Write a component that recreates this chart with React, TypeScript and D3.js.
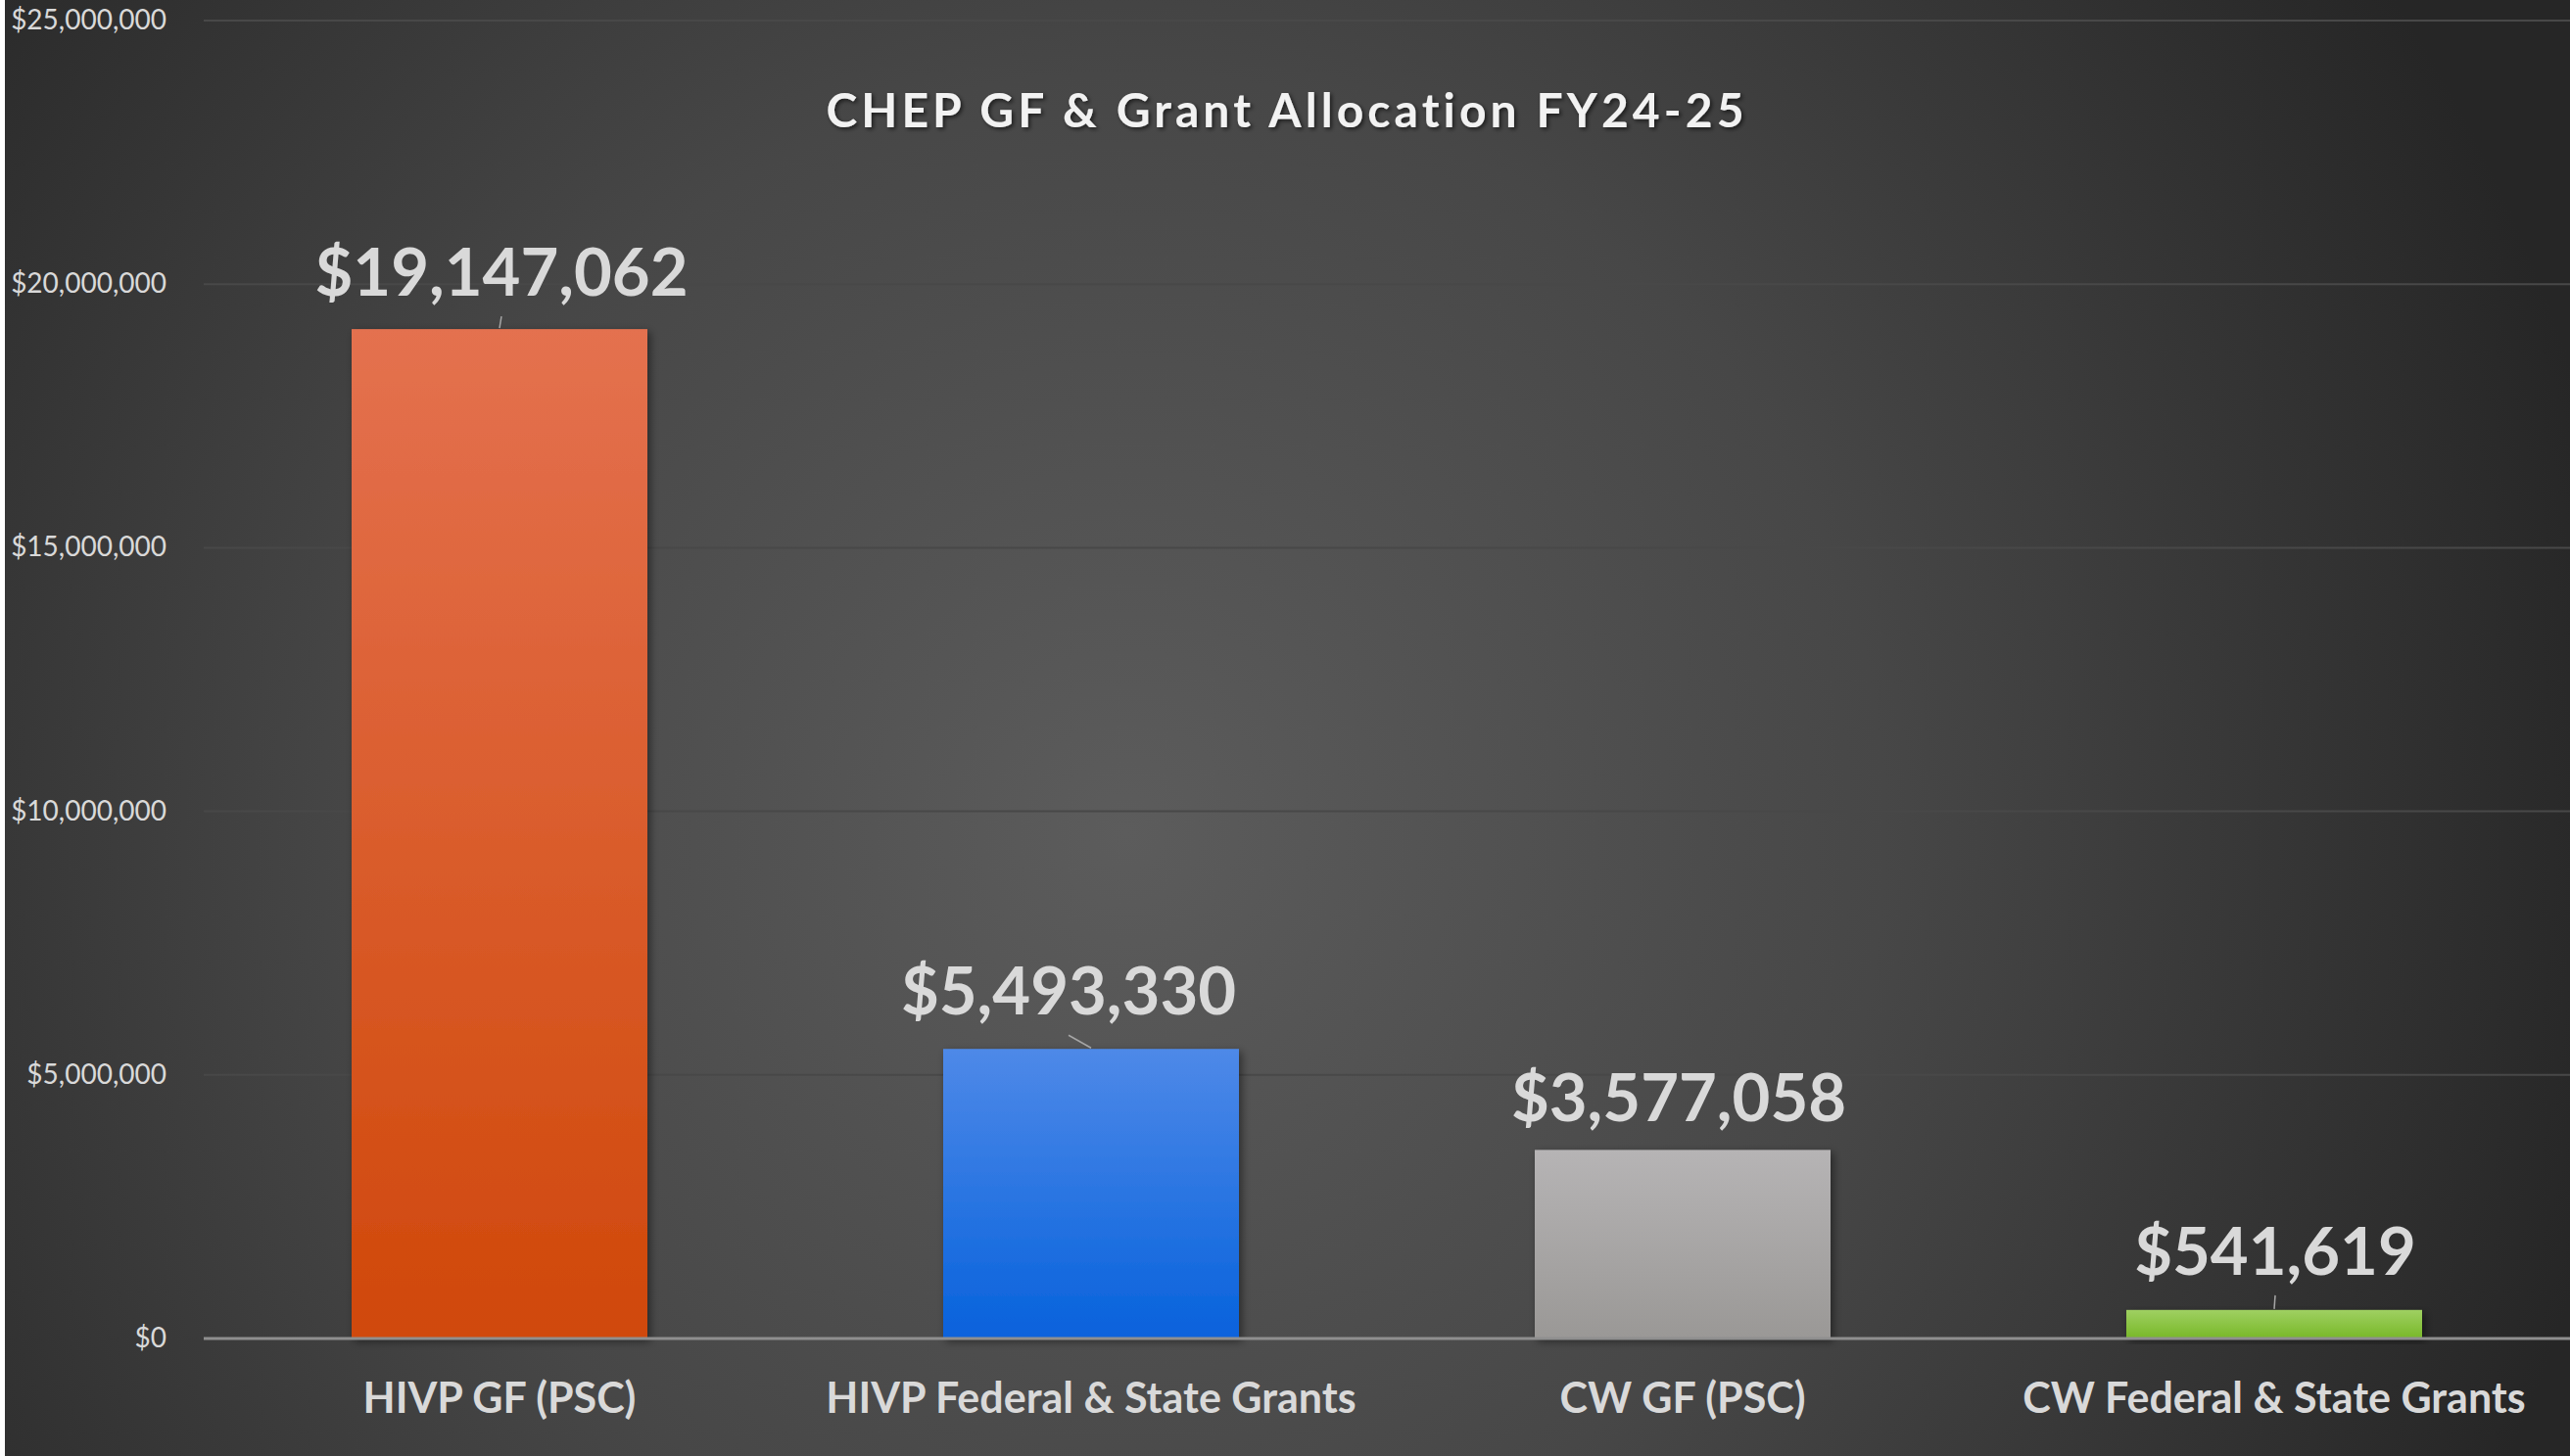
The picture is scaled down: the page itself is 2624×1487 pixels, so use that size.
import { useEffect, useLayoutEffect, useRef } from "react";
import * as d3 from "d3";

// chart data
const categories = [
  "HIVP GF (PSC)",
  "HIVP Federal & State Grants",
  "CW GF (PSC)",
  "CW Federal & State Grants",
];
const allocations = [19147062, 5493330, 3577058, 541619];
const yTicks = [0, 5000000, 10000000, 15000000, 20000000, 25000000];
const chartTitle = "CHEP GF & Grant Allocation FY24-25";

// bar gradient colours (top, bottom)
const barColors = [
  ["#e4714f", "#d0480a"],
  ["#4e89e8", "#0762dc"],
  ["#b6b4b5", "#9a9896"],
  ["#9fd062", "#78b828"],
];
// excel-style dragged label nudges
const labelNudge = [
  { dx: 2, dy: 0 },
  { dx: -23, dy: -1 },
  { dx: -4, dy: 5 },
  { dx: 1, dy: -2 },
];

const W = 2624;
const H = 1487;
const margin = { top: 21, right: 0, bottom: 120, left: 208 };

const App = () => {
  const ref = useRef<SVGSVGElement>(null);

  useLayoutEffect(() => {
    document.body.style.margin = "0";
  }, []);

  useEffect(() => {
    const svg = d3.select(ref.current);
    svg.selectAll("*").remove();

    const defs = svg.append("defs");
    const bg = defs
      .append("radialGradient")
      .attr("id", "bg")
      .attr("gradientUnits", "userSpaceOnUse")
      .attr("cx", 1150)
      .attr("cy", 850)
      .attr("r", 1550);
    bg.append("stop").attr("offset", 0).attr("stop-color", "#5c5c5c");
    bg.append("stop").attr("offset", 0.5).attr("stop-color", "#474747");
    bg.append("stop").attr("offset", 1).attr("stop-color", "#262626");

    barColors.forEach((c, i) => {
      const g = defs
        .append("linearGradient")
        .attr("id", "bar" + i)
        .attr("x1", 0)
        .attr("y1", 0)
        .attr("x2", 0)
        .attr("y2", 1);
      g.append("stop").attr("offset", 0).attr("stop-color", c[0]);
      g.append("stop").attr("offset", 1).attr("stop-color", c[1]);
    });

    const shadow = defs.append("filter").attr("id", "shadow").attr("x", "-10%").attr("y", "-10%").attr("width", "130%").attr("height", "130%");
    shadow
      .append("feDropShadow")
      .attr("dx", 3)
      .attr("dy", 3)
      .attr("stdDeviation", 4)
      .attr("flood-color", "#000")
      .attr("flood-opacity", 0.45);

    const tshadow = defs.append("filter").attr("id", "tshadow");
    tshadow
      .append("feDropShadow")
      .attr("dx", 2)
      .attr("dy", 2)
      .attr("stdDeviation", 2)
      .attr("flood-color", "#000")
      .attr("flood-opacity", 0.6);

    svg.append("rect").attr("width", W).attr("height", H).attr("fill", "#ffffff");
    svg.append("rect").attr("x", 5).attr("width", W - 5).attr("height", H).attr("fill", "url(#bg)");

    const x = d3
      .scaleBand()
      .domain(categories)
      .range([margin.left, W - margin.right])
      .paddingInner(0.5)
      .paddingOuter(0.25);

    const y = d3
      .scaleLinear()
      .domain([0, 25000000])
      .range([H - margin.bottom - 0, margin.top]);

    const fmt = d3.format("$,.0f");

    // gridlines
    svg
      .append("g")
      .selectAll("line")
      .data(yTicks.filter((t) => t > 0))
      .join("line")
      .attr("x1", margin.left)
      .attr("x2", W)
      .attr("y1", (d) => y(d))
      .attr("y2", (d) => y(d))
      .attr("stroke", "#484848")
      .attr("stroke-width", 2);

    // y tick labels
    svg
      .append("g")
      .selectAll("text")
      .data(yTicks)
      .join("text")
      .attr("x", 170)
      .attr("y", (d) => y(d))
      .attr("dy", "0.32em")
      .attr("text-anchor", "end")
      .attr("fill", "#d9d9d9")
      .style("font-family", "Lato, 'Open Sans', sans-serif")
      .style("font-size", "28px")
      .text((d) => fmt(d));

    // bars
    svg
      .append("g")
      .selectAll("rect")
      .data(allocations)
      .join("rect")
      .attr("x", (d, i) => x(categories[i])!)
      .attr("y", (d) => y(d))
      .attr("width", x.bandwidth())
      .attr("height", (d) => y(0) - y(d))
      .attr("fill", (d, i) => "url(#bar" + i + ")")
      .attr("filter", "url(#shadow)");

    // axis line
    svg
      .append("line")
      .attr("x1", margin.left)
      .attr("x2", W)
      .attr("y1", y(0))
      .attr("y2", y(0))
      .attr("stroke", "#8f8f8f")
      .attr("stroke-width", 3);

    // data labels + leader lines
    const gap = 34;
    allocations.forEach((d, i) => {
      const cx = x(categories[i])! + x.bandwidth() / 2;
      const lx = cx + labelNudge[i].dx;
      const base = y(d) - gap + labelNudge[i].dy;
      const leadTop = base + 21;
      if (y(d) - 1 - leadTop > 9) {
        svg
          .append("line")
          .attr("x1", lx)
          .attr("y1", leadTop)
          .attr("x2", cx)
          .attr("y2", y(d) - 1)
          .attr("stroke", "#a6a6a6")
          .attr("stroke-width", 1.5);
      }
      svg
        .append("text")
        .attr("x", lx)
        .attr("y", base)
        .attr("text-anchor", "middle")
        .attr("fill", "#d9d9d9")
        .style("font-family", "Lato, 'Open Sans', sans-serif")
        .style("font-weight", "bold")
        .style("font-size", "67px")
        .text(fmt(d));
    });

    // category labels
    svg
      .append("g")
      .selectAll("text")
      .data(categories)
      .join("text")
      .attr("x", (d) => x(d)! + x.bandwidth() / 2)
      .attr("y", 1443)
      .attr("text-anchor", "middle")
      .attr("fill", "#d9d9d9")
      .style("font-family", "Lato, 'Open Sans', sans-serif")
      .style("font-weight", "bold")
      .style("font-size", "43px")
      .text((d) => d);

    // title
    svg
      .append("text")
      .attr("x", W / 2)
      .attr("y", 130)
      .attr("text-anchor", "middle")
      .attr("fill", "#f2f2f2")
      .attr("filter", "url(#tshadow)")
      .attr("textLength", 937)
      .attr("lengthAdjust", "spacing")
      .style("font-family", "Lato, 'Open Sans', sans-serif")
      .style("font-weight", "bold")
      .style("font-size", "48px")
      .style("font-variant-ligatures", "none")
      .text(chartTitle);
  }, []);

  return <svg ref={ref} width={W} height={H} style={{ display: "block" }}></svg>;
};

export default App;
